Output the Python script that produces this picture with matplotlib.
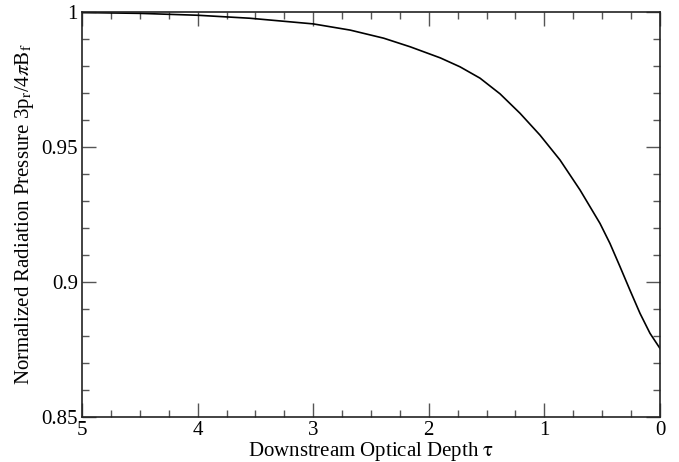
import matplotlib
matplotlib.use("Agg")
import matplotlib.pyplot as plt
from matplotlib.ticker import MultipleLocator

# values
tau = [5.0, 4.5, 4.0, 3.55, 3.0, 2.68, 2.39, 2.16, 1.90, 1.73, 1.557, 1.384,
       1.211, 1.038, 0.865, 0.692, 0.519, 0.433, 0.346, 0.26, 0.173, 0.0865, 0.0]
pressure = [0.9998, 0.9995, 0.9988, 0.9977, 0.9956, 0.9933, 0.9903, 0.9871,
            0.9830, 0.9797, 0.9755, 0.9697, 0.9625, 0.9544, 0.9452, 0.9341,
            0.9217, 0.9143, 0.9057, 0.8970, 0.8884, 0.8810, 0.8754]

x_ticks = [5, 4, 3, 2, 1, 0]
x_labels = ['5', '4', '3', '2', '1', '0']
y_ticks = [0.85, 0.9, 0.95, 1.0]
y_labels = ['0.85', '0.9', '0.95', '1']

plt.rcParams['font.family'] = ['Liberation Serif', 'DejaVu Serif']
plt.rcParams['mathtext.fontset'] = 'stix'

fig = plt.figure(figsize=(6.79, 4.62), dpi=100)
ax = fig.add_axes([0.1208, 0.0974, 0.8512, 0.8766])

ax.plot(tau, pressure, color='black', linewidth=1.2)

ax.set_xlim(5, 0)
ax.set_ylim(0.85, 1.0)

ax.xaxis.set_minor_locator(MultipleLocator(0.25))
ax.yaxis.set_minor_locator(MultipleLocator(0.01))
ax.set_xticks(x_ticks)
ax.set_xticklabels(x_labels)
ax.set_yticks(y_ticks)
ax.set_yticklabels(y_labels)

ax.tick_params(which='both', direction='in', top=True, right=True,
               labelsize=15, color='#555555')
ax.tick_params(which='major', length=10, width=1, pad=3)
ax.tick_params(which='minor', length=5, width=1)
for s in ax.spines.values():
    s.set_linewidth(1.2)
    s.set_color('#222222')

ax.set_xlabel(r'Downstream Optical Depth $\mathrm{\tau}$', fontsize=15, labelpad=0)
ax.set_ylabel(r'Normalized Radiation Pressure 3p$_\mathrm{r}$/4$\pi$B$_\mathrm{f}$',
              fontsize=15, labelpad=4)

fig.savefig('out.png', dpi=100)
